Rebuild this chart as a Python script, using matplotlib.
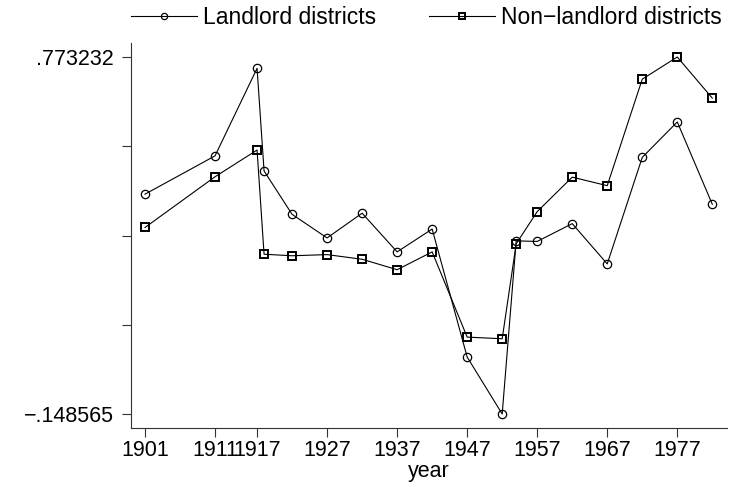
import matplotlib
matplotlib.use("Agg")
import matplotlib.pyplot as plt
import numpy as np

# ── Data ──────────────────────────────────────────────────────
years = [1901, 1911, 1917, 1918, 1922, 1927, 1932, 1937, 1942,
         1947, 1952, 1954, 1957, 1962, 1967, 1972, 1977, 1982]
landlord = [0.419, 0.518, 0.744, 0.479, 0.367, 0.306, 0.370, 0.270, 0.329,
            -0.0015, -0.148565, 0.2985, 0.297, 0.343, 0.239, 0.514, 0.6055, 0.393]
non_landlord = [0.333, 0.464, 0.533, 0.264, 0.260, 0.263, 0.251, 0.224, 0.270,
                0.050, 0.0457, 0.291, 0.374, 0.463, 0.441, 0.716, 0.773232, 0.667]
xtick_years = [1901, 1911, 1917, 1927, 1937, 1947, 1957, 1967, 1977]
y_min, y_max = -0.148565, 0.773232
y_min_label, y_max_label = "\u2212.148565", ".773232"

plt.rcParams["font.family"] = ["Liberation Sans", "DejaVu Sans"]
FS = 15.5

fig = plt.figure(figsize=(7.36, 4.87), dpi=100)
ax = fig.add_axes([131 / 736, 1 - 428 / 487, 596 / 736, 385 / 487])

ax.plot(years, landlord, color="black", lw=0.8, marker="o", ms=6,
        mfc="none", mec="black", mew=0.9, label="Landlord districts")
ax.plot(years, non_landlord, color="black", lw=0.8, marker="s", ms=5.8,
        mfc="none", mec="black", mew=1.4, label="Non\u2212landlord districts")

# axes limits, Stata-like padding
ypad = (y_max - y_min) * 14 / 357
ax.set_ylim(y_min - ypad, y_max + ypad)
ax.set_xlim(1899, 1984.1)

yt = np.linspace(y_min, y_max, 5)
ax.set_yticks(yt)
ax.set_yticklabels([y_min_label, "", "", "", y_max_label], fontsize=FS)
ax.set_xticks(xtick_years)
ax.set_xticklabels([str(y) for y in xtick_years], fontsize=FS)
ax.tick_params(direction="out", length=6.5, width=0.8, color="#333333")
ax.tick_params(axis="y", pad=6)
ax.tick_params(axis="x", pad=2)

for s in ["top", "right"]:
    ax.spines[s].set_visible(False)
for s in ["left", "bottom"]:
    ax.spines[s].set_linewidth(0.8)
    ax.spines[s].set_color("#333333")

ax.set_xlabel("year", fontsize=FS, labelpad=0)

fig.legend(loc="center", bbox_to_anchor=(426 / 736, 1 - 18 / 487),
           ncol=2, frameon=False, fontsize=16.5, handlelength=2.9,
           handletextpad=0.25, columnspacing=2.3, markerscale=0.75,
           borderaxespad=0, borderpad=0)

fig.savefig("out.png", dpi=100)
